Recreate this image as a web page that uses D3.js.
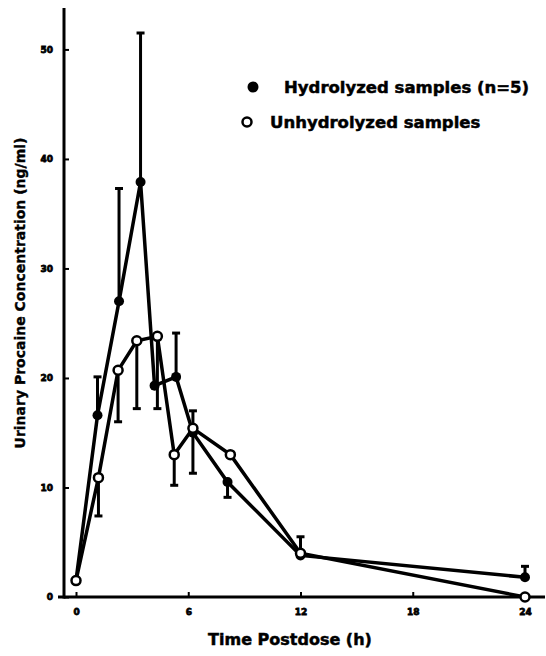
<!DOCTYPE html>
<html>
<head>
<meta charset="utf-8">
<script src="https://cdn.jsdelivr.net/npm/d3@7"></script>
<style>
  body { margin: 0; background: #fff; }
  svg { display: block; font-family: "DejaVu Sans", "Liberation Sans", Arial, sans-serif; }
</style>
</head>
<body>
<div id="wrapper"></div>
<script>
// data (times as plotted)
const hydrolyzedTimes = [0, 1.15, 2.3, 3.45, 4.2, 5.35, 6.25, 8.1, 12, 24];
const hydrolyzed = [1.5, 16.6, 27, 37.9, 19.3, 20.1, 15, 10.5, 3.8, 1.8];
const hydrolyzedErrUp = [0, 3.5, 10.3, 13.6, 0, 4.0, 2.0, 0, 1.7, 1.0];
const hydrolyzedErrDown = [0, 0, 0, 0, 0, 0, 0, 1.4, 0, 0];
const unhydrolyzedTimes = [0, 1.2, 2.25, 3.25, 4.35, 5.25, 6.25, 8.25, 12, 24];
const unhydrolyzed = [1.5, 10.9, 20.7, 23.4, 23.8, 13, 15.4, 13, 4, 0];
const unhydrolyzedErrDown = [0, 3.5, 4.7, 6.2, 6.6, 2.8, 4.1, 0, 0, 0];
const xTicks = [0, 6, 12, 18, 24];
const yTicks = [0, 10, 20, 30, 40, 50];
const legendLabels = ["Hydrolyzed samples (n=5)", "Unhydrolyzed samples"];

async function drawChart() {
  const dimensions = { width: 546, height: 656 }

  const svg = d3.select("#wrapper")
    .append("svg")
      .attr("width", dimensions.width)
      .attr("height", dimensions.height);

  const xScaler = d3.scaleLinear()
    .domain([0, 24])
    .range([76, 525]);

  const yScaler = d3.scaleLinear()
    .domain([0, 53.6])
    .range([597, 10]);

  // axes
  const xAxisGen = d3.axisBottom(xScaler)
    .tickValues(xTicks)
    .tickSize(-5)
    .tickPadding(12);
  const xAxis = svg.append("g")
    .attr("transform", `translate(0,${yScaler(0)})`)
    .call(xAxisGen);

  const yAxisGen = d3.axisLeft(yScaler)
    .tickValues(yTicks)
    .tickSize(-5)
    .tickPadding(11);
  const yAxis = svg.append("g")
    .attr("transform", `translate(64,0)`)
    .call(yAxisGen);

  [xAxis, yAxis].forEach(ax => {
    ax.select(".domain").remove();
    ax.selectAll(".tick line").attr("stroke", "#000").attr("stroke-width", 2);
    ax.selectAll(".tick text")
      .attr("fill", "#000")
      .attr("font-family", "DejaVu Sans")
      .attr("font-size", "9px")
      .attr("font-weight", "bold")
      .attr("stroke", "#000")
      .attr("stroke-width", 0.8);
  });

  svg.append("line")
    .attr("x1", 58).attr("x2", 545)
    .attr("y1", yScaler(0)).attr("y2", yScaler(0))
    .attr("stroke", "#000").attr("stroke-width", 3);
  svg.append("line")
    .attr("x1", 64).attr("x2", 64)
    .attr("y1", 8).attr("y2", yScaler(0) + 1.5)
    .attr("stroke", "#000").attr("stroke-width", 3);

  // axis titles
  svg.append("text")
    .attr("x", 290)
    .attr("y", 645)
    .attr("text-anchor", "middle")
    .attr("font-size", "16px")
    .attr("font-weight", "bold")
    .attr("stroke", "#000")
    .attr("stroke-width", 0.5)
    .text("Time Postdose (h)");

  svg.append("text")
    .attr("transform", "translate(25,293) rotate(-90)")
    .attr("text-anchor", "middle")
    .attr("font-size", "14px")
    .attr("font-weight", "bold")
    .attr("stroke", "#000")
    .attr("stroke-width", 0.4)
    .text("Urinary Procaine Concentration (ng/ml)");

  // error bars
  const errGroup = svg.append("g")
    .attr("stroke", "#000")
    .attr("stroke-width", 3);

  const drawErr = (ts, values, errs, sign) => {
    ts.forEach((t, i) => {
      if (!errs[i]) return;
      const x = xScaler(t);
      const yEnd = yScaler(values[i] + sign * errs[i]);
      errGroup.append("line")
        .attr("x1", x).attr("x2", x)
        .attr("y1", yScaler(values[i])).attr("y2", yEnd);
      errGroup.append("line")
        .attr("x1", x - 4).attr("x2", x + 4)
        .attr("y1", yEnd).attr("y2", yEnd);
    });
  };
  drawErr(hydrolyzedTimes, hydrolyzed, hydrolyzedErrUp, 1);
  drawErr(hydrolyzedTimes, hydrolyzed, hydrolyzedErrDown, -1);
  drawErr(unhydrolyzedTimes, unhydrolyzed, unhydrolyzedErrDown, -1);

  // lines
  const lineGen = (ts, values) => d3.line()
    .x((d, i) => xScaler(ts[i]))
    .y(d => yScaler(d))(values);

  svg.append("path")
    .attr("d", lineGen(unhydrolyzedTimes, unhydrolyzed))
    .attr("fill", "none")
    .attr("stroke", "#000")
    .attr("stroke-width", 3.5);
  svg.append("path")
    .attr("d", lineGen(hydrolyzedTimes, hydrolyzed))
    .attr("fill", "none")
    .attr("stroke", "#000")
    .attr("stroke-width", 3.5);

  // markers
  svg.append("g").selectAll("circle")
    .data(hydrolyzed)
    .enter()
    .append("circle")
      .attr("cx", (d, i) => xScaler(hydrolyzedTimes[i]))
      .attr("cy", d => yScaler(d))
      .attr("r", 5)
      .attr("fill", "#000");

  svg.append("g").selectAll("circle")
    .data(unhydrolyzed)
    .enter()
    .append("circle")
      .attr("cx", (d, i) => xScaler(unhydrolyzedTimes[i]))
      .attr("cy", d => yScaler(d))
      .attr("r", 4.5)
      .attr("fill", "#fff")
      .attr("stroke", "#000")
      .attr("stroke-width", 2.5);

  // legend
  const legend = svg.append("g");
  legend.append("circle")
    .attr("cx", 253).attr("cy", 87).attr("r", 5.5)
    .attr("fill", "#000");
  legend.append("circle")
    .attr("cx", 247).attr("cy", 122).attr("r", 4.5)
    .attr("fill", "#fff").attr("stroke", "#000").attr("stroke-width", 2.5);
  legend.selectAll("text")
    .data(legendLabels)
    .enter()
    .append("text")
      .attr("x", (d, i) => i === 0 ? 284 : 270)
      .attr("y", (d, i) => i === 0 ? 93 : 128)
      .attr("font-size", "16.5px")
      .attr("font-weight", "bold")
      .attr("stroke", "#000")
      .attr("stroke-width", 0.5)
      .text(d => d);
}

drawChart()
</script>
</body>
</html>
